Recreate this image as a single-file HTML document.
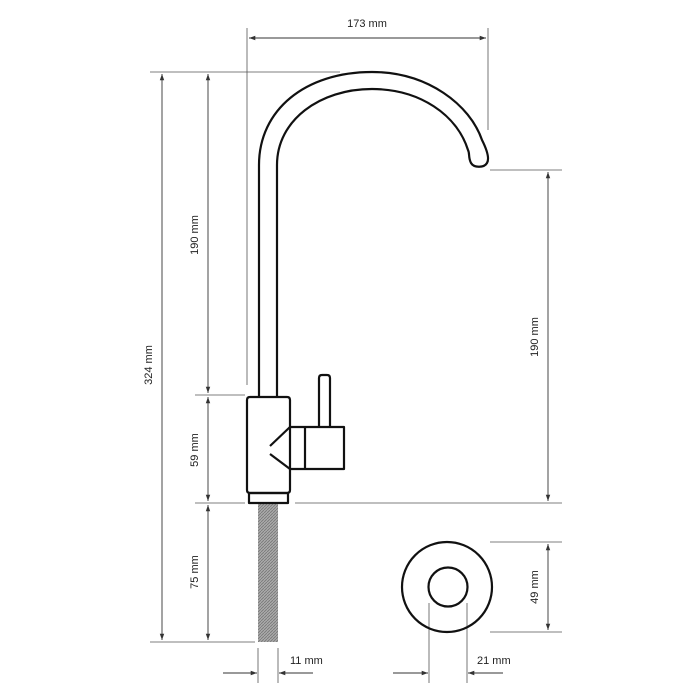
<!DOCTYPE html>
<html><head><style>html,body{margin:0;padding:0;background:#fff}svg{display:block}text{font-family:"Liberation Sans",sans-serif;font-size:11px;fill:#222}</style></head>
<body>
<svg width="700" height="700" viewBox="0 0 700 700" xmlns="http://www.w3.org/2000/svg">
<defs>
<marker id="a" viewBox="0 0 10 10" refX="10" refY="5" markerWidth="7" markerHeight="7" orient="auto-start-reverse"><path d="M0,1.5 L10,5 L0,8.5 z" fill="#333"/></marker>
<pattern id="h" width="3" height="3" patternUnits="userSpaceOnUse"><rect width="3" height="3" fill="#aaa"/><path d="M0,3 L3,0" stroke="#777" stroke-width="0.8"/></pattern>
</defs>
<g stroke="#555" stroke-width="0.8" fill="none">
<!-- extension lines -->
<line x1="247" y1="28" x2="247" y2="385"/>
<line x1="488" y1="28" x2="488" y2="130"/>
<line x1="150" y1="72" x2="340" y2="72"/>
<line x1="150" y1="642" x2="255" y2="642"/>
<line x1="195" y1="395" x2="245" y2="395"/>
<line x1="195" y1="503" x2="245" y2="503"/>
<line x1="490" y1="170" x2="562" y2="170"/>
<line x1="295" y1="503" x2="562" y2="503"/>
<line x1="490" y1="542" x2="562" y2="542"/>
<line x1="490" y1="632" x2="562" y2="632"/>
<line x1="258" y1="648" x2="258" y2="683"/>
<line x1="278" y1="648" x2="278" y2="683"/>
<line x1="429" y1="603" x2="429" y2="683"/>
<line x1="467" y1="603" x2="467" y2="683"/>
</g>
<g stroke="#333" stroke-width="0.9" fill="none">
<line x1="249" y1="38" x2="486" y2="38" marker-start="url(#a)" marker-end="url(#a)"/>
<line x1="162" y1="74" x2="162" y2="640" marker-start="url(#a)" marker-end="url(#a)"/>
<line x1="208" y1="74" x2="208" y2="393" marker-start="url(#a)" marker-end="url(#a)"/>
<line x1="208" y1="397" x2="208" y2="501" marker-start="url(#a)" marker-end="url(#a)"/>
<line x1="208" y1="505" x2="208" y2="640" marker-start="url(#a)" marker-end="url(#a)"/>
<line x1="548" y1="172" x2="548" y2="501" marker-start="url(#a)" marker-end="url(#a)"/>
<line x1="548" y1="544" x2="548" y2="630" marker-start="url(#a)" marker-end="url(#a)"/>
<line x1="223" y1="673" x2="257" y2="673" marker-end="url(#a)"/>
<line x1="313" y1="673" x2="279" y2="673" marker-end="url(#a)"/>
<line x1="393" y1="673" x2="428" y2="673" marker-end="url(#a)"/>
<line x1="503" y1="673" x2="468" y2="673" marker-end="url(#a)"/>
</g>
<text x="367" y="27" text-anchor="middle">173 mm</text>
<text transform="translate(152,365) rotate(-90)" text-anchor="middle">324 mm</text>
<text transform="translate(198,235) rotate(-90)" text-anchor="middle">190 mm</text>
<text transform="translate(198,450) rotate(-90)" text-anchor="middle">59 mm</text>
<text transform="translate(198,572) rotate(-90)" text-anchor="middle">75 mm</text>
<text transform="translate(538,337) rotate(-90)" text-anchor="middle">190 mm</text>
<text transform="translate(538,587) rotate(-90)" text-anchor="middle">49 mm</text>
<text x="290" y="664">11 mm</text>
<text x="477" y="664">21 mm</text>
<!-- faucet -->
<rect x="258" y="503" width="20" height="139" fill="url(#h)"/>
<g stroke="#111" stroke-width="2.2" fill="none" stroke-linejoin="round">
<path d="M259,397 L259,165 C259,110 305,72 372,72 C428,72 470,105 482,140 C486,148 490,158 487,163 C484,168 474,168 471,163 C468,157 470,154 468,150 C457,115 420,89 372,89 C320,89 277,120 277,165 L277,397"/>
<path d="M290,427 L290,400 Q290,397 287,397 L250,397 Q247,397 247,400 L247,490 Q247,493 250,493 L287,493 Q290,493 290,490 L290,469"/>
<rect x="249" y="493" width="39" height="10"/>
<rect x="290" y="427" width="54" height="42"/>
<line x1="305" y1="427" x2="305" y2="469"/>
<path d="M319,427 L319,378 Q319,375 322,375 L327,375 Q330,375 330,378 L330,427"/>
<line x1="290" y1="427" x2="270" y2="446"/>
<line x1="270" y1="454" x2="290" y2="469"/>
<circle cx="447" cy="587" r="45"/>
<circle cx="448" cy="587" r="19.5"/>
</g>
</svg>
</body></html>
